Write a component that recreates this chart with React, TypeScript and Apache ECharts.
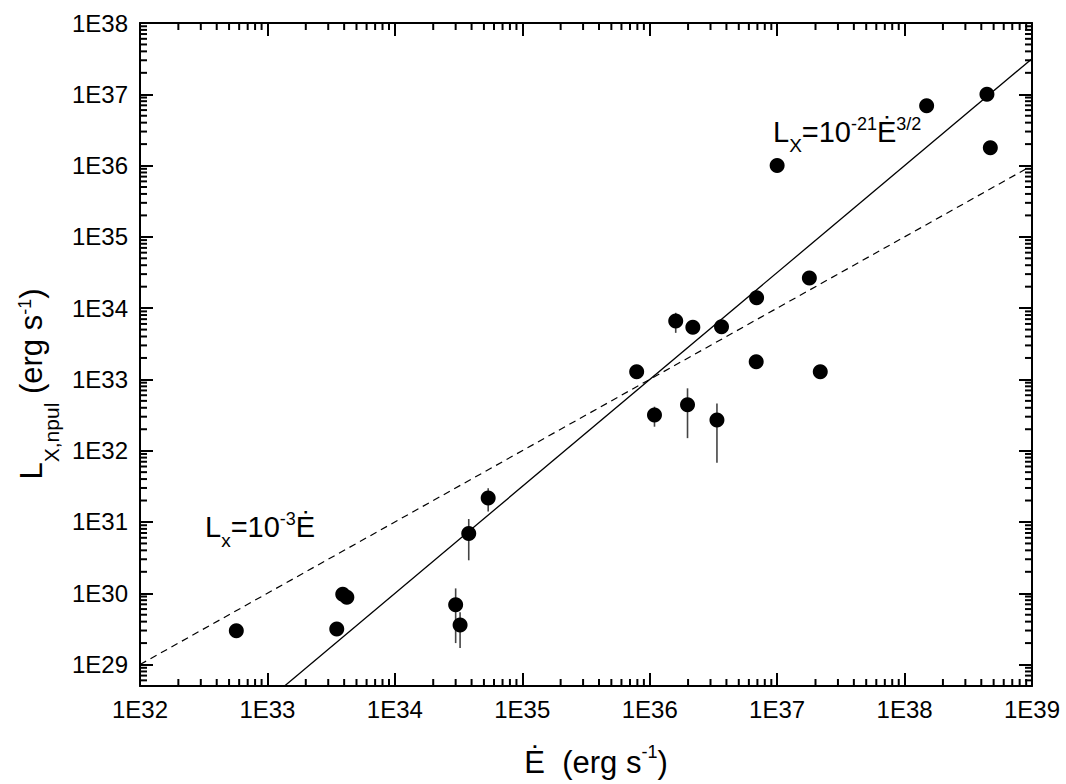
import React, { useEffect, useRef } from "react";
import * as echarts from "echarts";

// ---- data ----
const edot = [5.7e32, 3.5e33, 3.9e33, 4.2e33, 3.0e34, 3.25e34, 3.8e34, 5.4e34, 7.9e35, 1.09e36, 1.6e36, 2.18e36, 1.98e36, 3.66e36, 3.37e36, 6.9e36, 6.85e36, 2.18e37, 1.79e37, 1.0e37, 1.49e38, 4.43e38, 4.71e38];
const lx = [2.97e29, 3.15e29, 9.7e29, 8.8e29, 6.9e29, 3.6e29, 6.9e30, 2.17e31, 1.28e33, 3.16e32, 6.6e33, 5.4e33, 4.4e32, 5.5e33, 2.7e32, 1.4e34, 1.77e33, 1.28e33, 2.64e34, 1.0e36, 6.9e36, 1.0e37, 1.78e36];

const errE = [3.0e34, 3.25e34, 3.8e34, 5.4e34, 1.09e36, 1.6e36, 1.98e36, 3.37e36];
const errLow = [2.0e29, 1.71e29, 2.9e30, 1.4e31, 2.17e32, 4.5e33, 1.5e32, 6.8e31];
const errHigh = [1.17e30, 5.4e29, 1.1e31, 2.97e31, 4.14e32, 8.6e33, 7.5e32, 4.6e32];

// model lines (endpoints): Lx = 1e-21 E^1.5 and Lx = 1e-3 E
const steepLine = [[1.363e33, 5e28], [1e39, 3.162e37]];
const linearLine = [[1e32, 1e29], [1e39, 1e36]];

const xMin = 1e32, xMax = 1e39;
const yMin = 5e28, yMax = 1e38;

const FONT = "'Liberation Sans', Arial, Helvetica, sans-serif";

function minorTicks(lo: number, hi: number): number[] {
  const out: number[] = [];
  for (let e = Math.floor(Math.log10(lo)); e <= Math.ceil(Math.log10(hi)); e++) {
    for (let m = 2; m <= 9; m++) {
      const v = m * Math.pow(10, e);
      if (v > lo * 1.0001 && v < hi * 0.9999) out.push(v);
    }
  }
  return out;
}

const fmt = (v: number) => {
  const l = Math.log10(v);
  const e = Math.round(l);
  if (Math.abs(l - e) > 1e-6) return "";
  return "1E" + e;
};

// token "height" drives the vertical placement of top/bottom aligned fragments
const rich = (main: number, lh: number, sub: number, subH: number, sup: number, supH: number) => ({
  a: { fontSize: main, fontFamily: FONT, fill: "#000", lineHeight: lh },
  sub: { fontSize: sub, fontFamily: FONT, fill: "#000", height: subH, verticalAlign: "bottom" },
  sup: { fontSize: sup, fontFamily: FONT, fill: "#000", height: supH, verticalAlign: "top" },
});

export default function App() {
  const ref = useRef<HTMLDivElement>(null);
  useEffect(() => {
    if (!ref.current) return;
    const chart = echarts.init(ref.current, null, { renderer: "svg" });
    const axisLine = { show: true, onZero: false, lineStyle: { color: "#000", width: 2 } };
    const axisTick = { show: true, inside: true, length: 13, lineStyle: { color: "#000", width: 2 } };
    const xMinor = minorTicks(xMin, xMax);
    const yMinor = minorTicks(yMin, yMax);

    const option: any = {
      animation: false,
      backgroundColor: "#fff",
      grid: { left: 140, top: 23, right: 34, bottom: 98, containLabel: false },
      xAxis: [
        {
          type: "log", logBase: 10, min: xMin, max: xMax, position: "bottom",
          axisLine, axisTick,
          axisLabel: { formatter: fmt, fontSize: 24, color: "#000", fontFamily: FONT, margin: 11 },
          splitLine: { show: false },
        },
        {
          type: "log", logBase: 10, min: xMin, max: xMax, position: "top",
          axisLine, axisTick, axisLabel: { show: false }, splitLine: { show: false },
        },
      ],
      yAxis: [
        {
          type: "log", logBase: 10, min: yMin, max: yMax, position: "left",
          axisLine, axisTick,
          axisLabel: { formatter: fmt, fontSize: 24, color: "#000", fontFamily: FONT, margin: 12 },
          splitLine: { show: false },
        },
        {
          type: "log", logBase: 10, min: yMin, max: yMax, position: "right",
          axisLine, axisTick, axisLabel: { show: false }, splitLine: { show: false },
        },
      ],
      series: [
        {
          type: "custom",
          xAxisIndex: 0, yAxisIndex: 0,
          data: xMinor.map((v) => [v, 1e30]),
          encode: { x: 0, y: 1 },
          silent: true,
          z: 5,
          renderItem: (params: any, api: any) => {
            const cs = params.coordSys;
            const px = api.coord([api.value(0), 1e30])[0];
            const style = { stroke: "#000", lineWidth: 2 };
            return {
              type: "group",
              children: [
                { type: "line", shape: { x1: px, y1: cs.y + cs.height, x2: px, y2: cs.y + cs.height - 7 }, style },
                { type: "line", shape: { x1: px, y1: cs.y, x2: px, y2: cs.y + 7 }, style },
              ],
            };
          },
        },
        {
          type: "custom",
          xAxisIndex: 0, yAxisIndex: 0,
          data: yMinor.map((v) => [1e33, v]),
          encode: { x: 0, y: 1 },
          silent: true,
          z: 5,
          renderItem: (params: any, api: any) => {
            const cs = params.coordSys;
            const py = api.coord([1e33, api.value(1)])[1];
            const style = { stroke: "#000", lineWidth: 2 };
            return {
              type: "group",
              children: [
                { type: "line", shape: { x1: cs.x, y1: py, x2: cs.x + 7, y2: py }, style },
                { type: "line", shape: { x1: cs.x + cs.width, y1: py, x2: cs.x + cs.width - 7, y2: py }, style },
              ],
            };
          },
        },
        {
          type: "line",
          data: steepLine,
          showSymbol: false, symbol: "none",
          lineStyle: { color: "#000", width: 1.3 },
          clip: true, silent: true, z: 2,
        },
        {
          type: "line",
          data: linearLine,
          showSymbol: false, symbol: "none",
          lineStyle: { color: "#000", width: 1.2, type: [7, 5] },
          clip: true, silent: true, z: 2,
        },
        {
          type: "custom",
          data: errE.map((e, i) => [e, errLow[i], errHigh[i]]),
          encode: { x: 0, y: [1, 2] },
          silent: true,
          z: 3,
          renderItem: (params: any, api: any) => {
            const p1 = api.coord([api.value(0), api.value(1)]);
            const p2 = api.coord([api.value(0), api.value(2)]);
            return {
              type: "line",
              shape: { x1: p1[0], y1: p1[1], x2: p2[0], y2: p2[1] },
              style: { stroke: "#444", lineWidth: 1.6 },
            };
          },
        },
        {
          type: "scatter",
          data: edot.map((e, i) => [e, lx[i]]),
          symbol: "circle",
          symbolSize: 15,
          itemStyle: { color: "#000", opacity: 1 },
          z: 4,
        },
      ],
      graphic: [
        {
          type: "text",
          x: 773, y: 132,
          style: {
            text: "{a|L}{sub|X}{a|=10}{sup|-21}{a|Ė}{sup|3/2}",
            rich: rich(29, 48, 19, 21, 18, 32),
            align: "left", verticalAlign: "middle",
          },
          z: 10,
        },
        {
          type: "text",
          x: 205, y: 527,
          style: {
            text: "{a|L}{sub|x}{a|=10}{sup|-3}{a|Ė}",
            rich: rich(29, 48, 19, 21, 18, 32),
            align: "left", verticalAlign: "middle",
          },
          z: 10,
        },
        {
          type: "text",
          x: 596, y: 762,
          style: {
            text: "{a|Ė  (erg s}{sup|-1}{a|)}",
            rich: rich(31, 48, 19, 21, 18, 28),
            align: "center", verticalAlign: "middle",
          },
          z: 10,
        },
        {
          type: "text",
          x: 31, y: 384,
          rotation: Math.PI / 2,
          style: {
            text: "{a|L}{sub|X,npul}{a| (erg s}{sup|-1}{a|)}",
            rich: rich(31, 60, 21, 19, 18, 47),
            align: "center", verticalAlign: "middle",
          },
          z: 10,
        },
      ],
    };
    chart.setOption(option);
    return () => chart.dispose();
  }, []);
  return (
    <div
      ref={ref}
      style={{ position: "fixed", left: 0, top: 0, width: 1066, height: 784, background: "#fff" }}
    />
  );
}
